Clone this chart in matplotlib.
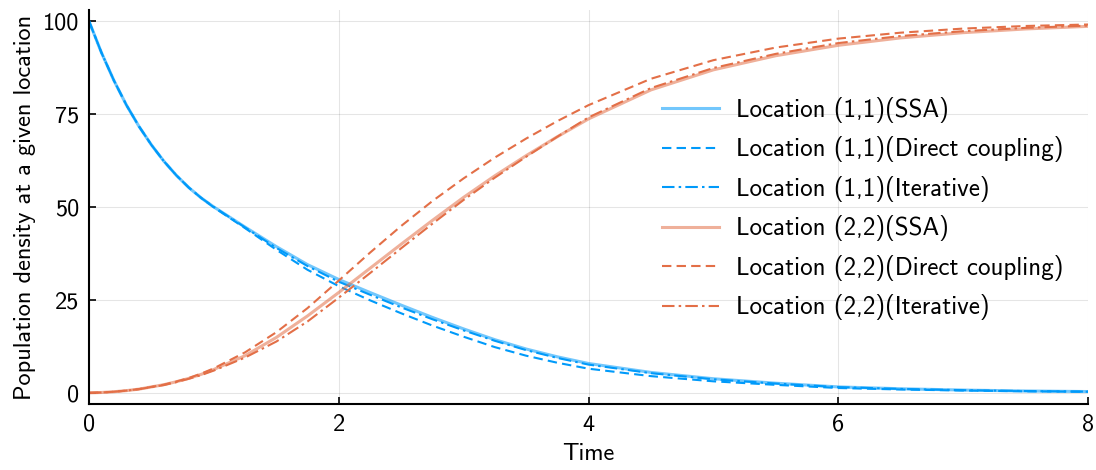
import matplotlib
matplotlib.use("Agg")
import matplotlib.pyplot as plt

plt.rcParams['font.family'] = ['cmss10', 'DejaVu Sans']
plt.rcParams['axes.unicode_minus'] = False
plt.rcParams['axes.formatter.use_mathtext'] = True

# ---- data ----
time = [0.0, 0.1, 0.2, 0.3, 0.4, 0.5, 0.6, 0.7, 0.8, 0.9, 1.0, 1.25, 1.5, 1.75,
        2.0, 2.25, 2.5, 2.75, 3.0, 3.25, 3.5, 3.75, 4.0, 4.5, 5.0, 5.5, 6.0,
        6.5, 7.0, 7.5, 8.0]

loc11_ssa = [100.0, 91.5, 84.0, 77.4, 71.7, 66.7, 62.3, 58.5, 55.2, 52.4, 50.0,
             44.6, 39.35, 34.5, 30.5, 27.0, 23.6, 20.3, 17.2, 14.3, 11.8, 9.7,
             7.9, 5.5, 3.8, 2.6, 1.6, 1.1, 0.75, 0.5, 0.35]
loc11_direct = [100.0, 91.5, 84.0, 77.4, 71.7, 66.7, 62.3, 58.5, 55.2, 52.4, 49.9,
                44.3, 38.5, 33.1, 28.7, 24.9, 21.4, 18.1, 15.1, 12.3, 10.0, 8.1,
                6.5, 4.5, 3.1, 2.15, 1.3, 0.9, 0.63, 0.42, 0.3]
loc11_iter = [100.0, 91.5, 84.0, 77.4, 71.7, 66.7, 62.3, 58.5, 55.2, 52.4, 50.0,
              44.5, 39.0, 34.1, 29.9, 26.4, 23.0, 19.8, 16.8, 14.0, 11.5, 9.4,
              7.6, 5.3, 3.65, 2.5, 1.55, 1.05, 0.72, 0.48, 0.33]

loc22_ssa = [0.0, 0.1, 0.3, 0.6, 1.0, 1.6, 2.2, 3.0, 3.9, 5.0, 6.3, 10.0, 14.9,
             20.7, 27.0, 33.5, 40.0, 46.4, 52.6, 58.4, 63.8, 68.9, 73.7, 81.5,
             86.9, 90.7, 93.5, 95.5, 96.9, 97.9, 98.6]
loc22_direct = [0.0, 0.1, 0.3, 0.6, 1.0, 1.6, 2.2, 3.05, 4.0, 5.2, 6.6, 10.9,
                16.3, 22.8, 30.2, 37.7, 44.9, 51.6, 57.7, 63.3, 68.4, 73.1, 77.4,
                84.5, 89.5, 92.9, 95.3, 96.9, 98.0, 98.7, 99.1]
loc22_iter = [0.0, 0.1, 0.3, 0.6, 1.0, 1.55, 2.1, 2.9, 3.8, 4.8, 6.0, 9.5, 13.8,
              19.2, 25.6, 32.2, 38.9, 45.5, 51.9, 57.9, 63.5, 68.9, 74.1, 82.0,
              87.4, 91.2, 94.1, 96.0, 97.3, 98.2, 98.8]

labels = ["Location (1,1)(SSA)", "Location (1,1)(Direct coupling)",
          "Location (1,1)(Iterative)", "Location (2,2)(SSA)",
          "Location (2,2)(Direct coupling)", "Location (2,2)(Iterative)"]

xticks = [0, 2, 4, 6, 8]
yticks = [0, 25, 50, 75, 100]

# ---- styles ----
blue = '#009AFA'
orange = '#E36F47'
dash = (0, (4.5, 2.5))
dashdot = (0, (6.0, 2.0, 1.2, 2.0))

fig = plt.figure(figsize=(10.96, 4.70), dpi=100)
ax = fig.add_axes([89/1096, 1 - 404/470, (1088-89)/1096, (404-10)/470])

ax.plot(time, loc11_ssa, color=blue, alpha=0.55, lw=2.2, ls='-', label=labels[0])
ax.plot(time, loc11_direct, color=blue, lw=1.5, ls=dash, label=labels[1])
ax.plot(time, loc11_iter, color=blue, lw=1.5, ls=dashdot, label=labels[2])
ax.plot(time, loc22_ssa, color=orange, alpha=0.55, lw=2.2, ls='-', label=labels[3])
ax.plot(time, loc22_direct, color=orange, lw=1.5, ls=dash, label=labels[4])
ax.plot(time, loc22_iter, color=orange, lw=1.5, ls=dashdot, label=labels[5])

ax.set_xlim(0, 8)
ax.set_ylim(-3, 103)
ax.set_xticks(xticks)
ax.set_xticklabels([str(v) for v in xticks])
ax.set_yticks(yticks)
ax.set_yticklabels([str(v) for v in yticks])
ax.grid(True, color='#000000', alpha=0.1, lw=0.8)
ax.set_axisbelow(True)

for s in ['top', 'right']:
    ax.spines[s].set_visible(False)
for s in ['left', 'bottom']:
    ax.spines[s].set_linewidth(1.5)
    ax.spines[s].set_color('black')

ax.tick_params(direction='in', length=5, width=1.2, labelsize=17.5, pad=7, colors='black')

ax.set_xlabel("Time", fontsize=17.5, labelpad=5)
ax.set_ylabel("Population density at a given location", fontsize=17.5, labelpad=5)

leg = ax.legend(loc='upper right', bbox_to_anchor=(0.985, 0.805), frameon=False,
                fontsize=18, handlelength=2.3, handletextpad=0.65,
                labelspacing=0.54, borderaxespad=0.0)

fig.savefig("out.png", dpi=100)
